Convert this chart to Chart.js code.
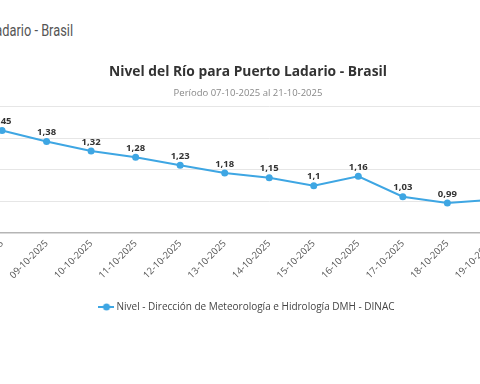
<!DOCTYPE html>
<html>
<head>
<meta charset="utf-8">
<script src="https://cdn.jsdelivr.net/npm/chart.js@4.4.0/dist/chart.umd.min.js"></script>
<style>
  html, body { margin: 0; padding: 0; background: #fff; overflow: hidden; }
  body { width: 480px; height: 384px; position: relative; }
  #header {
    position: absolute; left: -327px; top: 21px; width: 400px;
    text-align: right; white-space: nowrap;
    font-family: Roboto, sans-serif;
    font-size: 16px; color: #555;
    transform: scaleX(0.8); transform-origin: right center;
  }
  #wrap { position: absolute; left: -98px; top: 50px; width: 692px; height: 272px; }
</style>
</head>
<body>
<div id="header">Nivel del Río para Puerto Ladario - Brasil</div>
<div id="wrap"><canvas id="nivelChart"></canvas></div>
<script>
// fechas y niveles (m)
const fechas = ["07-10-2025", "08-10-2025", "09-10-2025", "10-10-2025", "11-10-2025",
  "12-10-2025", "13-10-2025", "14-10-2025", "15-10-2025", "16-10-2025",
  "17-10-2025", "18-10-2025", "19-10-2025", "20-10-2025", "21-10-2025"];
const niveles = [1.5, 1.45, 1.38, 1.32, 1.28, 1.23, 1.18, 1.15, 1.1, 1.16, 1.03, 0.99, 1.01, 1.0, 0.98];
const yTicks = [0.8, 1.0, 1.2, 1.4, 1.6];

const azul = "#3ea6e3";
const font = "'Open Sans', sans-serif";

// icono de la leyenda: linea con punto
const icon = document.createElement("canvas");
icon.width = 16; icon.height = 8;
const ic = icon.getContext("2d");
ic.strokeStyle = azul; ic.lineWidth = 2;
ic.beginPath(); ic.moveTo(0, 4); ic.lineTo(16, 4); ic.stroke();
ic.fillStyle = azul;
ic.beginPath(); ic.arc(8, 4, 3.5, 0, Math.PI * 2); ic.fill();

// etiquetas de valor sobre cada punto
const valueLabels = {
  id: "valueLabels",
  afterDatasetsDraw(chart) {
    const ctx = chart.ctx;
    const meta = chart.getDatasetMeta(0);
    ctx.save();
    ctx.font = "bold 9.5px " + font;
    ctx.fillStyle = "#333";
    ctx.textAlign = "center";
    ctx.textBaseline = "middle";
    meta.data.forEach((pt, i) => {
      const txt = String(niveles[i]).replace(".", ",");
      ctx.fillText(txt, pt.x, pt.y - 9);
    });
    ctx.restore();
  }
};

new Chart(document.getElementById("nivelChart"), {
  type: "line",
  data: {
    labels: fechas,
    datasets: [{
      label: "Nivel - Dirección de Meteorología e Hidrología DMH - DINAC",
      data: niveles,
      borderColor: azul,
      backgroundColor: azul,
      borderWidth: 2,
      pointRadius: 3.5,
      pointBackgroundColor: azul,
      pointBorderWidth: 0,
      tension: 0,
      clip: false
    }]
  },
  plugins: [valueLabels],
  options: {
    responsive: true,
    maintainAspectRatio: false,
    animation: false,
    layout: { autoPadding: false, padding: { top: 10, left: 0, right: 0, bottom: 0 } },
    scales: {
      x: {
        grid: { display: false, drawTicks: false },
        border: { color: "#b5b5b5", width: 1.5 },
        ticks: { minRotation: 45, maxRotation: 45, padding: 5, color: "#555", font: { family: font, size: 9.5 } }
      },
      y: {
        min: 0.8, max: 1.6,
        afterFit: s => { s.width = 55.5; },
        afterBuildTicks: s => { s.ticks = yTicks.map(v => ({ value: v })); },
        grid: { color: "#e6e6e6", drawTicks: false },
        border: { display: false },
        ticks: { padding: 8, color: "#555", font: { family: font, size: 9.5 } }
      }
    },
    plugins: {
      title: {
        display: true,
        text: "Nivel del Río para Puerto Ladario - Brasil",
        color: "#333",
        font: { family: font, size: 13.8, weight: "bold" },
        padding: { top: 4, bottom: 6 }
      },
      subtitle: {
        display: true,
        text: "Período 07-10-2025 al 21-10-2025",
        color: "#888",
        font: { family: font, size: 9.5 },
        padding: { top: 1, bottom: 8 }
      },
      legend: {
        position: "bottom",
        labels: {
          usePointStyle: true,
          pointStyle: icon,
          color: "#444",
          font: { family: font, size: 10 },
          padding: 16
        }
      },
      tooltip: { enabled: false }
    }
  }
});
</script>
</body>
</html>
